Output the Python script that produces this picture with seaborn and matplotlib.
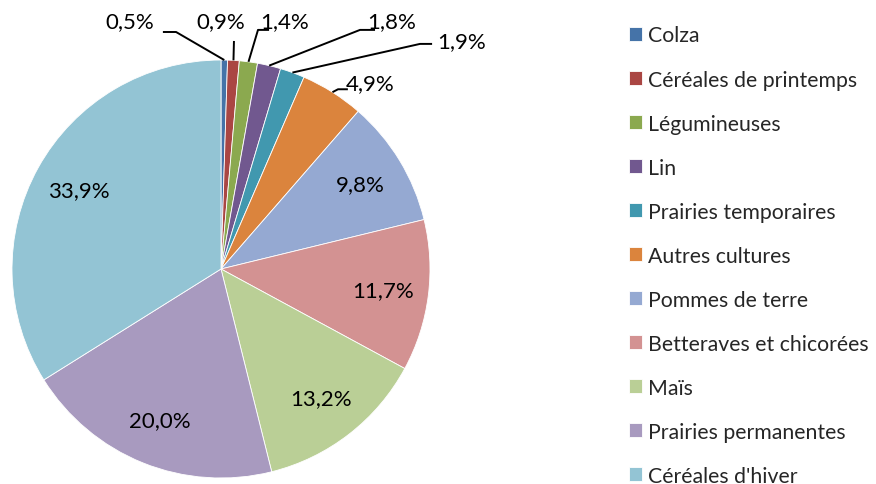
import numpy as np
import matplotlib
matplotlib.use("Agg")
import matplotlib.pyplot as plt
import seaborn as sns

categories = ["Colza", "Céréales de printemps", "Légumineuses", "Lin",
              "Prairies temporaires", "Autres cultures", "Pommes de terre",
              "Betteraves et chicorées", "Maïs", "Prairies permanentes",
              "Céréales d'hiver"]
shares = [0.5, 0.9, 1.4, 1.8, 1.9, 4.9, 9.8, 11.7, 13.2, 20.0, 33.9]
colors = ["#4573A8", "#AA4643", "#8BA94F", "#71588F", "#4198AF", "#DB843D",
          "#95A9D2", "#D39292", "#BACF96", "#A89ABF", "#93C4D4"]

sns.set_theme(style="white")
plt.rcParams["font.family"] = ["Lato", "DejaVu Sans"]

W, H = 876, 485
fig = plt.figure(figsize=(W / 100, H / 100), dpi=100)
cx, cy, r = 221, 270, 209
ax = fig.add_axes([(cx - r) / W, (H - cy - r) / H, 2 * r / W, 2 * r / H])

labels_txt = [f"{v:.1f}%".replace(".", ",") for v in shares]
wedges, _ = ax.pie(shares, colors=colors, startangle=90, counterclock=False,
                   radius=1, wedgeprops=dict(edgecolor="white", linewidth=0.6))
ax.set_xlim(-1, 1)
ax.set_ylim(-1, 1)
ax.set_aspect("equal")
ax.axis("off")

fs = 16
# outside labels for small slices: text position, leader elbow points (layout only)
outside = {
    0: ((-0.435, 1.187), [(-0.215, 1.134), (-0.278, 1.134)]),
    1: ((0.0, 1.187), [(0.062, 1.091)]),
    2: ((0.306, 1.187), [(0.177, 1.144), (0.23, 1.144)]),
    3: ((0.818, 1.187), [(0.665, 1.144), (0.737, 1.144)]),
    4: ((1.153, 1.091), [(0.952, 1.077), (1.01, 1.077)]),
    5: ((0.713, 0.89), [(0.56, 0.86), (0.607, 0.86)]),
}
total = sum(shares)
cum = np.cumsum([0] + shares[:-1])
for i, (w, lab) in enumerate(zip(wedges, labels_txt)):
    mid = (cum[i] + shares[i] / 2) / total * 2 * np.pi
    ex, ey = np.sin(mid), np.cos(mid)
    if i in outside:
        (tx, ty), pts = outside[i]
        xs = [ex] + [p[0] for p in pts]
        ys = [ey] + [p[1] for p in pts]
        ax.plot(xs, ys, color="black", lw=1.4, clip_on=False,
                solid_capstyle="butt")
        ax.text(tx, ty, lab, ha="center", va="center", fontsize=fs,
                color="black", clip_on=False)
    else:
        d = 0.78
        ax.text(d * ex, d * ey, lab, ha="center", va="center", fontsize=fs,
                color="black")

leg = fig.legend(wedges, categories, loc="upper left",
                 bbox_to_anchor=(620 / W, 1 - 18 / H), frameon=False,
                 fontsize=15.3, handlelength=0.65, handleheight=0.65,
                 handletextpad=0.25, labelspacing=1.13, borderaxespad=0)

fig.savefig("out.png", dpi=100, facecolor="white")
